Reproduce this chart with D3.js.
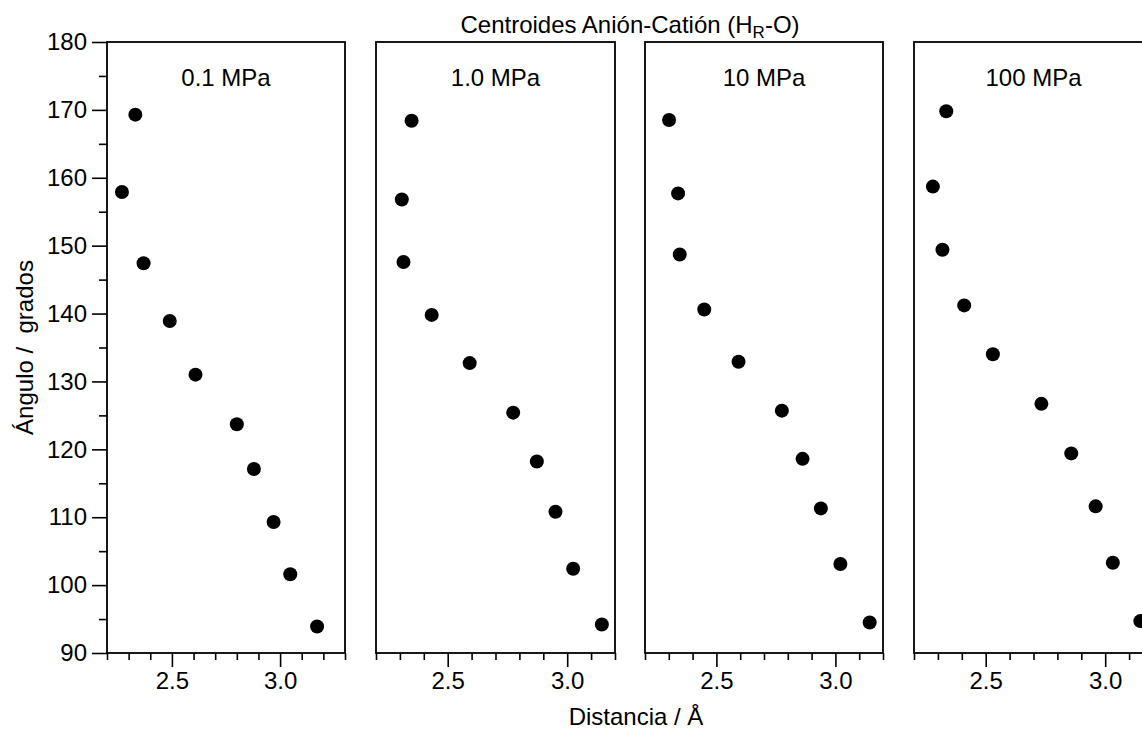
<!DOCTYPE html>
<html>
<head>
<meta charset="utf-8">
<script src="https://cdn.jsdelivr.net/npm/d3@7"></script>
<style>
  body { margin: 0; background: #fff; }
  svg { display: block; font-family: "Liberation Sans", Arial, sans-serif; }
  .tick text { font-size: 24px; fill: #000; }
  .tick line { stroke: #000; stroke-width: 1.6; }
  .frame { fill: none; stroke: #000; stroke-width: 1.8; }
</style>
</head>
<body>
<div id="chart"></div>
<script>
// values
const panelLabels = ['0.1 MPa', '1.0 MPa', '10 MPa', '100 MPa']

const dist01 = [2.331, 2.269, 2.369, 2.490, 2.609, 2.800, 2.879, 2.970, 3.047, 3.171]
const ang01 = [169.3, 157.9, 147.4, 138.9, 131.0, 123.7, 117.1, 109.3, 101.6, 93.9]

const dist1 = [2.349, 2.308, 2.315, 2.433, 2.592, 2.774, 2.873, 2.951, 3.025, 3.145]
const ang1 = [168.4, 156.8, 147.6, 139.8, 132.7, 125.4, 118.2, 110.8, 102.4, 94.2]

const dist10 = [2.301, 2.339, 2.346, 2.449, 2.593, 2.775, 2.862, 2.939, 3.021, 3.144]
const ang10 = [168.5, 157.7, 148.7, 140.6, 132.9, 125.7, 118.6, 111.3, 103.1, 94.5]

const dist100 = [2.335, 2.279, 2.319, 2.410, 2.530, 2.733, 2.858, 2.960, 3.032, 3.147]
const ang100 = [169.8, 158.7, 149.4, 141.2, 134.0, 126.7, 119.4, 111.6, 103.3, 94.7]

const xDomains = [[2.2, 3.3], [2.2, 3.2], [2.2, 3.2], [2.2, 3.2]]
const xMajorTicks = [2.5, 3.0]
const xMinorTicks = [2.2, 2.3, 2.4, 2.6, 2.7, 2.8, 2.9, 3.1, 3.2, 3.3]
const yMajorTicks = [90, 100, 110, 120, 130, 140, 150, 160, 170, 180]
const yMinorTicks = [95, 105, 115, 125, 135, 145, 155, 165, 175]

const series = [
    { d: dist01, a: ang01 },
    { d: dist1, a: ang1 },
    { d: dist10, a: ang10 },
    { d: dist100, a: ang100 }
]

const W = 1142, H = 730
const plotTop = 42, plotBottom = 653
const lefts = [107, 376, 645, 914]
const widths = [238, 239, 238, 239]

const svg = d3.select('#chart').append('svg')
    .attr('width', W)
    .attr('height', H)

const yScale = d3.scaleLinear().domain([90, 180]).range([plotBottom, plotTop])

series.forEach((s, i) => {
    const x0 = lefts[i]
    const xScale = d3.scaleLinear().domain(xDomains[i]).range([x0, x0 + widths[i]])
    const inDomain = t => t >= xDomains[i][0] - 1e-9 && t <= xDomains[i][1] + 1e-9

    const g = svg.append('g').attr('class', 'panel')

    // minor and major x ticks
    g.append('g')
        .attr('transform', `translate(0, ${plotBottom})`)
        .call(d3.axisBottom(xScale).tickValues(xMinorTicks.filter(inDomain)).tickSize(7).tickFormat(''))
        .call(a => a.select('.domain').remove())
    g.append('g')
        .attr('transform', `translate(0, ${plotBottom})`)
        .call(d3.axisBottom(xScale).tickValues(xMajorTicks).tickSize(14).tickPadding(5).tickFormat(d3.format('.1f')))
        .call(a => a.select('.domain').remove())

    if (i === 0) {
        g.append('g')
            .attr('transform', `translate(${x0}, 0)`)
            .call(d3.axisLeft(yScale).tickValues(yMinorTicks).tickSize(8).tickFormat(''))
            .call(a => a.select('.domain').remove())
        g.append('g')
            .attr('transform', `translate(${x0}, 0)`)
            .call(d3.axisLeft(yScale).tickValues(yMajorTicks).tickSize(15).tickPadding(5))
            .call(a => a.select('.domain').remove())
    }

    g.append('rect')
        .attr('class', 'frame')
        .attr('x', x0)
        .attr('y', plotTop)
        .attr('width', widths[i])
        .attr('height', plotBottom - plotTop)

    g.append('text')
        .attr('x', x0 + widths[i] / 2)
        .attr('y', 86)
        .attr('text-anchor', 'middle')
        .attr('font-size', 24)
        .text(panelLabels[i])

    g.selectAll('.point')
        .data(s.d.map((d, k) => ({ d: d, a: s.a[k] })))
        .join('circle')
        .attr('class', 'point')
        .attr('cx', p => xScale(p.d))
        .attr('cy', p => yScale(p.a))
        .attr('r', 7)
        .attr('fill', '#000')
})

// title with subscript R
const title = svg.append('text')
    .attr('x', 630)
    .attr('y', 33)
    .attr('text-anchor', 'middle')
    .attr('font-size', 24)
title.append('tspan').text('Centroides Anión-Catión (H')
title.append('tspan').attr('font-size', 17).attr('dy', 5).text('R')
title.append('tspan').attr('dy', -5).text('-O)')

svg.append('text')
    .attr('text-anchor', 'middle')
    .attr('font-size', 24)
    .attr('transform', `translate(33, ${(plotTop + plotBottom) / 2}) rotate(-90)`)
    .style('white-space', 'pre')
    .text('Ángulo /  grados')

svg.append('text')
    .attr('x', 636)
    .attr('y', 725)
    .attr('text-anchor', 'middle')
    .attr('font-size', 24)
    .text('Distancia / Å')
</script>
</body>
</html>
